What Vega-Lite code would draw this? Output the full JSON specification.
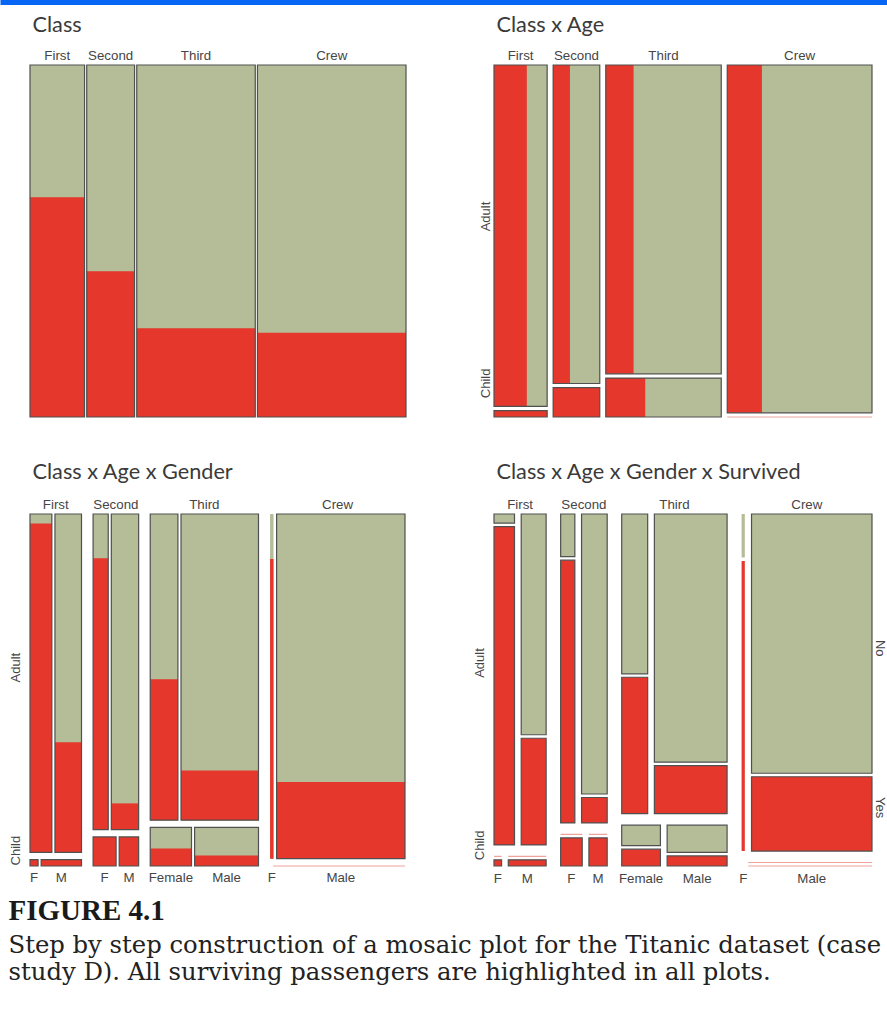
{
  "$schema": "https://vega.github.io/schema/vega-lite/v6.json",
  "padding": 0,
  "background": "white",
  "bounds": "flush",
  "spacing": 60,
  "datasets": {
    "bar": [{"a": 0, "b": 1}],
    "titanic": [
      {"class": "First", "age": "Child", "sex": "Male", "survived": "No", "n": 0},
      {"class": "First", "age": "Child", "sex": "Male", "survived": "Yes", "n": 5},
      {"class": "First", "age": "Child", "sex": "Female", "survived": "No", "n": 0},
      {"class": "First", "age": "Child", "sex": "Female", "survived": "Yes", "n": 1},
      {"class": "First", "age": "Adult", "sex": "Male", "survived": "No", "n": 118},
      {"class": "First", "age": "Adult", "sex": "Male", "survived": "Yes", "n": 57},
      {"class": "First", "age": "Adult", "sex": "Female", "survived": "No", "n": 4},
      {"class": "First", "age": "Adult", "sex": "Female", "survived": "Yes", "n": 140},
      {"class": "Second", "age": "Child", "sex": "Male", "survived": "No", "n": 0},
      {"class": "Second", "age": "Child", "sex": "Male", "survived": "Yes", "n": 11},
      {"class": "Second", "age": "Child", "sex": "Female", "survived": "No", "n": 0},
      {"class": "Second", "age": "Child", "sex": "Female", "survived": "Yes", "n": 13},
      {"class": "Second", "age": "Adult", "sex": "Male", "survived": "No", "n": 154},
      {"class": "Second", "age": "Adult", "sex": "Male", "survived": "Yes", "n": 14},
      {"class": "Second", "age": "Adult", "sex": "Female", "survived": "No", "n": 13},
      {"class": "Second", "age": "Adult", "sex": "Female", "survived": "Yes", "n": 80},
      {"class": "Third", "age": "Child", "sex": "Male", "survived": "No", "n": 35},
      {"class": "Third", "age": "Child", "sex": "Male", "survived": "Yes", "n": 13},
      {"class": "Third", "age": "Child", "sex": "Female", "survived": "No", "n": 17},
      {"class": "Third", "age": "Child", "sex": "Female", "survived": "Yes", "n": 14},
      {"class": "Third", "age": "Adult", "sex": "Male", "survived": "No", "n": 387},
      {"class": "Third", "age": "Adult", "sex": "Male", "survived": "Yes", "n": 75},
      {"class": "Third", "age": "Adult", "sex": "Female", "survived": "No", "n": 89},
      {"class": "Third", "age": "Adult", "sex": "Female", "survived": "Yes", "n": 76},
      {"class": "Crew", "age": "Child", "sex": "Male", "survived": "No", "n": 0},
      {"class": "Crew", "age": "Child", "sex": "Male", "survived": "Yes", "n": 0},
      {"class": "Crew", "age": "Child", "sex": "Female", "survived": "No", "n": 0},
      {"class": "Crew", "age": "Child", "sex": "Female", "survived": "Yes", "n": 0},
      {"class": "Crew", "age": "Adult", "sex": "Male", "survived": "No", "n": 670},
      {"class": "Crew", "age": "Adult", "sex": "Male", "survived": "Yes", "n": 192},
      {"class": "Crew", "age": "Adult", "sex": "Female", "survived": "No", "n": 3},
      {"class": "Crew", "age": "Adult", "sex": "Female", "survived": "Yes", "n": 20}
    ]
  },
  "title": {
    "text": "FIGURE 4.1",
    "subtitle": ["Step by step construction of a mosaic plot for the Titanic dataset (case", "study D). All surviving passengers are highlighted in all plots."],
    "orient": "bottom",
    "anchor": "start",
    "frame": "group",
    "font": "Liberation Serif",
    "fontSize": 29,
    "fontWeight": "bold",
    "color": "#1a1a1a",
    "subtitleFont": "DejaVu Serif",
    "subtitleFontSize": 24.3,
    "subtitleColor": "#222222",
    "subtitleLineHeight": 27,
    "subtitlePadding": 8,
    "offset": 12,
    "dx": -21.5
  },
  "vconcat": [
    {
      "width": 857.5,
      "height": 5,
      "data": {"name": "bar"},
      "mark": {"type": "rect", "fill": "#0866f5"},
      "encoding": {
        "x": {"field": "a", "type": "quantitative", "scale": {"domain": [0, 1], "range": [-29.5, 857.5]}, "axis": null},
        "x2": {"field": "b"}
      }
    },
    {
      "columns": 2,
      "spacing": {"row": 97, "column": 88},
      "bounds": "flush",
      "concat": [
        {
          "width": 376,
          "height": 352,
          "title": {"text": "Class", "offset": 12},
          "data": {"name": "titanic"},
          "transform": [
            {"calculate": "indexof(['First','Second','Third','Crew'], datum.class)", "as": "ci"},
            {"calculate": "datum.survived == 'Yes' ? datum.n : 0", "as": "yv"},
            {"aggregate": [{"op": "sum", "field": "n", "as": "n"}, {"op": "sum", "field": "yv", "as": "yes"}], "groupby": ["class", "ci"]},
            {"stack": "n", "groupby": [], "sort": [{"field": "ci", "order": "ascending"}], "as": ["s0", "s1"]},
            {"calculate": "datum.s0 + datum.ci * 13", "as": "x0"},
            {"calculate": "datum.s1 + datum.ci * 13", "as": "x1"},
            {"calculate": "0", "as": "ylo"},
            {"calculate": "1", "as": "yhi"},
            {"calculate": "datum.yes / datum.n", "as": "f"},
            {"calculate": "(datum.x0 + datum.x1) / 2", "as": "xm"}
          ],
          "layer": [
            {
              "mark": {"type": "rect", "fill": "#b4bd98"},
              "encoding": {
                "x": {"field": "x0", "type": "quantitative", "scale": {"nice": false, "zero": true}, "axis": null},
                "x2": {"field": "x1"},
                "y": {"field": "ylo", "type": "quantitative", "scale": {"domain": [0, 1], "nice": false}, "axis": null},
                "y2": {"field": "yhi"}
              }
            },
            {
              "mark": {"type": "rect", "fill": "#e5372b"},
              "encoding": {
                "x": {"field": "x0", "type": "quantitative", "axis": null},
                "x2": {"field": "x1"},
                "y": {"field": "ylo", "type": "quantitative", "axis": null},
                "y2": {"field": "f"}
              }
            },
            {
              "mark": {"type": "rect", "filled": false, "stroke": "#505050", "strokeWidth": 1.2},
              "encoding": {
                "x": {"field": "x0", "type": "quantitative", "axis": null},
                "x2": {"field": "x1"},
                "y": {"field": "ylo", "type": "quantitative", "axis": null},
                "y2": {"field": "yhi"}
              }
            },
            {
              "mark": {"type": "text", "baseline": "alphabetic", "dy": -5},
              "encoding": {
                "x": {"field": "xm", "type": "quantitative", "axis": null},
                "y": {"field": "yhi", "type": "quantitative", "axis": null},
                "text": {"field": "class"}
              }
            }
          ]
        },
        {
          "width": 378,
          "height": 352,
          "title": {"text": "Class x Age", "offset": 12},
          "data": {"name": "titanic"},
          "transform": [
            {"calculate": "indexof(['First','Second','Third','Crew'], datum.class)", "as": "ci"},
            {"calculate": "datum.survived == 'Yes' ? datum.n : 0", "as": "yv"},
            {"aggregate": [{"op": "sum", "field": "n", "as": "n"}, {"op": "sum", "field": "yv", "as": "yes"}], "groupby": ["class", "ci", "age"]},
            {"calculate": "datum.age == 'Child' ? datum.n : 0", "as": "cv"},
            {"joinaggregate": [{"op": "sum", "field": "n", "as": "tot"}, {"op": "sum", "field": "cv", "as": "cn"}], "groupby": ["class"]},
            {"stack": "n", "groupby": [], "sort": [{"field": "ci", "order": "ascending"}], "as": ["s0", "s1"]},
            {"joinaggregate": [{"op": "min", "field": "s0", "as": "cs"}], "groupby": ["class"]},
            {"calculate": "datum.cs + datum.ci * 36.7", "as": "x0"},
            {"calculate": "datum.x0 + datum.tot", "as": "x1"},
            {"calculate": "(1 - 0.012) * datum.cn / datum.tot", "as": "hc"},
            {"calculate": "datum.age == 'Child' ? 0 : datum.hc + 0.012", "as": "y0"},
            {"calculate": "datum.age == 'Child' ? datum.hc : 1", "as": "y1"},
            {"calculate": "1", "as": "yhi"},
            {"calculate": "datum.n > 0 ? datum.yes / datum.n : 0", "as": "f"},
            {"calculate": "datum.x0 + datum.tot * datum.f", "as": "xr"},
            {"calculate": "datum.x0 + datum.tot / 2", "as": "xm"}
          ],
          "resolve": {"axis": {"y": "independent"}},
          "layer": [
            {
              "mark": {"type": "rect", "fill": "#b4bd98"},
              "encoding": {
                "x": {"field": "x0", "type": "quantitative", "scale": {"nice": false, "zero": true}, "axis": null},
                "x2": {"field": "x1"},
                "y": {"field": "y0", "type": "quantitative", "scale": {"domain": [0, 1], "nice": false, "zero": false},
                  "axis": {"orient": "left", "values": [0.571, 0.097], "labelExpr": "datum.value > 0.3 ? 'Adult' : 'Child'", "labelAngle": -90, "labelAlign": "center", "labelBaseline": "bottom", "labelPadding": 2, "domain": false, "ticks": false, "grid": false, "title": null, "labelFont": "Liberation Sans", "labelFontSize": 13, "labelColor": "#454545"}},
                "y2": {"field": "y1"}
              }
            },
            {
              "mark": {"type": "rect", "fill": "#e5372b"},
              "encoding": {
                "x": {"field": "x0", "type": "quantitative", "axis": null},
                "x2": {"field": "xr"},
                "y": {"field": "y0", "type": "quantitative", "axis": null},
                "y2": {"field": "y1"}
              }
            },
            {
              "mark": {"type": "rect", "filled": false, "strokeWidth": 1.2},
              "encoding": {
                "x": {"field": "x0", "type": "quantitative", "axis": null},
                "x2": {"field": "x1"},
                "y": {"field": "y0", "type": "quantitative", "axis": null},
                "y2": {"field": "y1"},
                "stroke": {"condition": {"test": "datum.n == 0", "value": "#f0a39b"}, "value": "#505050"}
              }
            },
            {
              "transform": [{"filter": "datum.age == 'Adult'"}],
              "mark": {"type": "text", "baseline": "alphabetic", "dy": -5},
              "encoding": {
                "x": {"field": "xm", "type": "quantitative", "axis": null},
                "y": {"field": "yhi", "type": "quantitative", "axis": null},
                "text": {"field": "class"}
              }
            }
          ]
        },
        {
          "width": 375,
          "height": 352,
          "title": {"text": "Class x Age x Gender", "offset": 14},
          "data": {"name": "titanic"},
          "transform": [
            {"calculate": "indexof(['First','Second','Third','Crew'], datum.class)", "as": "ci"},
            {"calculate": "datum.survived == 'Yes' ? datum.n : 0", "as": "yv"},
            {"aggregate": [{"op": "sum", "field": "n", "as": "n"}, {"op": "sum", "field": "yv", "as": "yes"}], "groupby": ["class", "ci", "age", "sex"]},
            {"calculate": "datum.age == 'Child' ? datum.n : 0", "as": "cv"},
            {"calculate": "datum.sex == 'Female' ? datum.n : 0", "as": "fv"},
            {"joinaggregate": [{"op": "sum", "field": "n", "as": "tot"}, {"op": "sum", "field": "cv", "as": "cn"}], "groupby": ["class"]},
            {"joinaggregate": [{"op": "sum", "field": "n", "as": "an"}, {"op": "sum", "field": "fv", "as": "fn"}], "groupby": ["class", "age"]},
            {"stack": "n", "groupby": [], "sort": [{"field": "ci", "order": "ascending"}], "as": ["s0", "s1"]},
            {"joinaggregate": [{"op": "min", "field": "s0", "as": "cs"}], "groupby": ["class"]},
            {"calculate": "datum.cs + datum.ci * 98.6", "as": "cx0"},
            {"calculate": "datum.an > 0 ? datum.tot * datum.fn / datum.an : 0", "as": "wf"},
            {"calculate": "datum.sex == 'Female' ? datum.cx0 : datum.cx0 + datum.wf + 20.8", "as": "x0"},
            {"calculate": "datum.sex == 'Female' ? datum.cx0 + datum.wf : datum.cx0 + datum.tot + 20.8", "as": "x1"},
            {"calculate": "(1 - 0.0207) * datum.cn / datum.tot", "as": "hc"},
            {"calculate": "datum.age == 'Child' ? 0 : datum.hc + 0.0207", "as": "y0"},
            {"calculate": "datum.age == 'Child' ? datum.hc : 1", "as": "y1"},
            {"calculate": "0", "as": "ylo"},
            {"calculate": "1", "as": "yhi"},
            {"calculate": "datum.n > 0 ? datum.yes / datum.n : 0", "as": "f"},
            {"calculate": "datum.y0 + (datum.y1 - datum.y0) * datum.f", "as": "yr"},
            {"calculate": "(datum.x0 + datum.x1) / 2", "as": "xm"},
            {"calculate": "datum.cx0 + (datum.tot + 20.8) / 2", "as": "cxm"},
            {"calculate": "datum.class == 'Third' ? datum.sex : (datum.sex == 'Female' ? 'F' : (datum.class == 'Crew' ? 'Male' : 'M'))", "as": "lab"}
          ],
          "resolve": {"axis": {"y": "independent"}},
          "layer": [
            {
              "mark": {"type": "rect", "fill": "#b4bd98"},
              "encoding": {
                "x": {"field": "x0", "type": "quantitative", "scale": {"nice": false, "zero": true}, "axis": null},
                "x2": {"field": "x1"},
                "y": {"field": "y0", "type": "quantitative", "scale": {"domain": [0, 1], "nice": false, "zero": false},
                  "axis": {"orient": "left", "values": [0.565, 0.045], "labelExpr": "datum.value > 0.3 ? 'Adult' : 'Child'", "labelAngle": -90, "labelAlign": "center", "labelBaseline": "bottom", "labelPadding": 8, "domain": false, "ticks": false, "grid": false, "title": null, "labelFont": "Liberation Sans", "labelFontSize": 13, "labelColor": "#454545"}},
                "y2": {"field": "y1"}
              }
            },
            {
              "mark": {"type": "rect", "fill": "#e5372b"},
              "encoding": {
                "x": {"field": "x0", "type": "quantitative", "axis": null},
                "x2": {"field": "x1"},
                "y": {"field": "y0", "type": "quantitative", "axis": null},
                "y2": {"field": "yr"}
              }
            },
            {
              "mark": {"type": "rect", "filled": false, "strokeWidth": 1.2},
              "encoding": {
                "x": {"field": "x0", "type": "quantitative", "axis": null},
                "x2": {"field": "x1"},
                "y": {"field": "y0", "type": "quantitative", "axis": null},
                "y2": {"field": "y1"},
                "stroke": {"condition": [{"test": "datum.n == 0", "value": "#f0a39b"}, {"test": "datum.x1 - datum.x0 < 30", "value": "transparent"}], "value": "#505050"}
              }
            },
            {
              "transform": [{"filter": "datum.age == 'Adult' && datum.sex == 'Female'"}],
              "mark": {"type": "text", "baseline": "alphabetic", "dy": -5},
              "encoding": {
                "x": {"field": "cxm", "type": "quantitative", "axis": null},
                "y": {"field": "yhi", "type": "quantitative", "axis": null},
                "text": {"field": "class"}
              }
            },
            {
              "transform": [{"filter": "(datum.age == 'Child' && datum.class != 'Crew') || (datum.age == 'Adult' && datum.class == 'Crew')"}],
              "mark": {"type": "text", "baseline": "alphabetic", "dy": 16},
              "encoding": {
                "x": {"field": "xm", "type": "quantitative", "axis": null},
                "y": {"field": "ylo", "type": "quantitative", "axis": null},
                "text": {"field": "lab"}
              }
            }
          ]
        },
        {
          "width": 378,
          "height": 352,
          "title": {"text": "Class x Age x Gender x Survived", "offset": 14},
          "data": {"name": "titanic"},
          "transform": [
            {"calculate": "indexof(['First','Second','Third','Crew'], datum.class)", "as": "ci"},
            {"calculate": "datum.survived == 'Yes' ? datum.n : 0", "as": "yv"},
            {"calculate": "datum.age == 'Child' ? datum.n : 0", "as": "cv"},
            {"calculate": "datum.sex == 'Female' ? datum.n : 0", "as": "fv"},
            {"joinaggregate": [{"op": "sum", "field": "n", "as": "tot"}, {"op": "sum", "field": "cv", "as": "cn"}], "groupby": ["class"]},
            {"joinaggregate": [{"op": "sum", "field": "n", "as": "an"}, {"op": "sum", "field": "fv", "as": "fn"}], "groupby": ["class", "age"]},
            {"joinaggregate": [{"op": "sum", "field": "n", "as": "cell"}, {"op": "sum", "field": "yv", "as": "cy"}], "groupby": ["class", "age", "sex"]},
            {"stack": "n", "groupby": [], "sort": [{"field": "ci", "order": "ascending"}], "as": ["s0", "s1"]},
            {"joinaggregate": [{"op": "min", "field": "s0", "as": "cs"}], "groupby": ["class"]},
            {"calculate": "datum.cs + datum.ci * 151.9", "as": "cx0"},
            {"calculate": "datum.an > 0 ? datum.tot * datum.fn / datum.an : 0", "as": "wf"},
            {"calculate": "datum.sex == 'Female' ? datum.cx0 : datum.cx0 + datum.wf + 48", "as": "x0"},
            {"calculate": "datum.sex == 'Female' ? datum.cx0 + datum.wf : datum.cx0 + datum.tot + 48", "as": "x1"},
            {"calculate": "0.9476 * datum.cn / datum.tot", "as": "rc"},
            {"calculate": "datum.age == 'Child' ? 0 : datum.rc + 0.0425", "as": "rb"},
            {"calculate": "datum.age == 'Child' ? datum.rc : 0.9476 - datum.rc", "as": "rh"},
            {"calculate": "datum.cell > 0 ? datum.rh * datum.cy / datum.cell : 0", "as": "yh"},
            {"calculate": "datum.survived == 'Yes' ? datum.rb : datum.rb + datum.yh + 0.0099", "as": "y0"},
            {"calculate": "datum.survived == 'Yes' ? datum.rb + datum.yh : datum.rb + datum.rh + 0.0099", "as": "y1"},
            {"calculate": "0", "as": "ylo"},
            {"calculate": "1", "as": "yhi"},
            {"calculate": "(datum.x0 + datum.x1) / 2", "as": "xm"},
            {"calculate": "datum.cx0 + (datum.tot + 48) / 2", "as": "cxm"},
            {"calculate": "datum.class == 'Third' ? datum.sex : (datum.sex == 'Female' ? 'F' : (datum.class == 'Crew' ? 'Male' : 'M'))", "as": "lab"}
          ],
          "resolve": {"axis": {"y": "independent"}},
          "layer": [
            {
              "mark": {"type": "rect", "strokeWidth": 1.2},
              "encoding": {
                "x": {"field": "x0", "type": "quantitative", "scale": {"nice": false, "zero": true}, "axis": null},
                "x2": {"field": "x1"},
                "y": {"field": "y0", "type": "quantitative", "scale": {"domain": [0, 1], "nice": false, "zero": false},
                  "axis": {"orient": "left", "values": [0.578, 0.06], "labelExpr": "datum.value > 0.3 ? 'Adult' : 'Child'", "labelAngle": -90, "labelAlign": "center", "labelBaseline": "bottom", "labelPadding": 8, "domain": false, "ticks": false, "grid": false, "title": null, "labelFont": "Liberation Sans", "labelFontSize": 13, "labelColor": "#454545"}},
                "y2": {"field": "y1"},
                "fill": {"condition": {"test": "datum.survived == 'Yes'", "value": "#e5372b"}, "value": "#b4bd98"},
                "stroke": {"condition": [{"test": "datum.n == 0", "value": "#f0a39b"}, {"test": "datum.x1 - datum.x0 < 30", "value": "transparent"}], "value": "#505050"}
              }
            },
            {
              "transform": [{"filter": "datum.age == 'Adult' && datum.sex == 'Female' && datum.survived == 'Yes'"}],
              "mark": {"type": "text", "baseline": "alphabetic", "dy": -5},
              "encoding": {
                "x": {"field": "cxm", "type": "quantitative", "axis": null},
                "y": {"field": "yhi", "type": "quantitative",
                  "axis": {"orient": "right", "values": [0.62, 0.167], "labelExpr": "datum.value > 0.4 ? 'No' : 'Yes'", "labelAngle": 90, "labelAlign": "center", "labelBaseline": "bottom", "labelPadding": 0, "domain": false, "ticks": false, "grid": false, "title": null, "labelFont": "Liberation Sans", "labelFontSize": 13, "labelColor": "#454545"}},
                "text": {"field": "class"}
              }
            },
            {
              "transform": [{"filter": "datum.survived == 'Yes' && ((datum.age == 'Child' && datum.class != 'Crew') || (datum.age == 'Adult' && datum.class == 'Crew'))"}],
              "mark": {"type": "text", "baseline": "alphabetic", "dy": 17},
              "encoding": {
                "x": {"field": "xm", "type": "quantitative", "axis": null},
                "y": {"field": "ylo", "type": "quantitative", "axis": null},
                "text": {"field": "lab"}
              }
            }
          ]
        }
      ]
    }
  ],
  "config": {
    "view": {"stroke": null},
    "title": {"font": "Lato", "fontSize": 21.7, "fontWeight": "normal", "color": "#3a3a3a", "anchor": "start", "frame": "group", "offset": 12, "dx": 2.5},
    "text": {"font": "Liberation Sans", "fontSize": 13.3, "color": "#454545"}
  }
}
